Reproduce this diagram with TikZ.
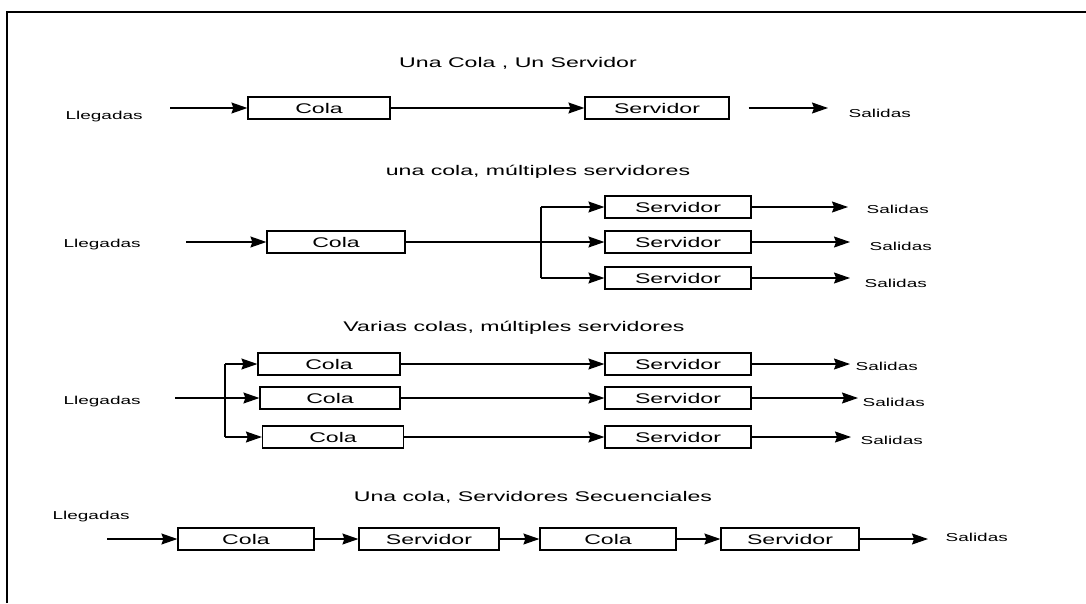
\documentclass[tikz,border=0pt]{standalone}
\usepackage{fontspec}
\setmainfont{Liberation Sans}[FakeStretch=1.65]
\usepackage{tikz}
\usetikzlibrary{arrows.meta, positioning}

\begin{document}
\begin{tikzpicture}[->, >={Stealth[length=16pt, width=11pt, inset=2pt]}, x=1pt, y=-1pt, line width=1.2pt,
	box/.style={
		rectangle,
		draw=black,
		minimum width=142pt,
		minimum height=22pt,
		inner sep=0pt,
		font=\fontsize{14}{16}\selectfont,
	},
	heading/.style={font=\fontsize{14}{16}\selectfont},
	endlbl/.style={anchor=west, inner sep=0pt, font=\fontsize{11.5}{13}\selectfont},]
	\useasboundingbox (0,0) rectangle (1086,603);
	% frame
	\draw[-] (7,603) -- (7,12) -- (1086,12);

	% una cola, un servidor
	\node[heading] (T1) at (518,63) {Una Cola , Un Servidor};
	\node[endlbl] (L1) at (65,117) {Llegadas};
	\coordinate (in1) at (170,108);
	\node[box] (C1) at (319,108) {Cola};
	\node[box, minimum width=144pt] (S1) at (657,108) {Servidor};
	\coordinate (out1) at (828,108);
	\node[endlbl] (O1) at (848,113) {Salidas};
	\path (in1) edge (C1)
	(C1) edge (S1)
	(S1) edge[shorten <=19pt] (out1);

	% una cola, varios servidores
	\node[heading] (T2) at (538,172) {una cola, múltiples servidores};
	\node[endlbl] (L2) at (63,245) {Llegadas};
	\coordinate (in2) at (186,242);
	\node[box, minimum width=138pt] (C2) at (336,242) {Cola};
	\coordinate (J2) at (541,242);
	\coordinate (J2a) at (541,207);
	\coordinate (J2c) at (541,278);
	\node[box, minimum width=146pt] (S2a) at (678,207) {Servidor};
	\node[box, minimum width=146pt] (S2b) at (678,242) {Servidor};
	\node[box, minimum width=146pt] (S2c) at (678,278) {Servidor};
	\coordinate (out2a) at (848,207);
	\coordinate (out2b) at (850,242);
	\coordinate (out2c) at (850,278);
	\node[endlbl] (O2a) at (866,209) {Salidas};
	\node[endlbl] (O2b) at (869,246) {Salidas};
	\node[endlbl] (O2c) at (864,283) {Salidas};
	\draw[-] (C2) -- (J2);
	\draw[-] (J2a) -- (J2c);
	\path (in2) edge (C2)
	(J2a) edge (S2a)
	(J2) edge (S2b)
	(J2c) edge (S2c)
	(S2a) edge (out2a)
	(S2b) edge (out2b)
	(S2c) edge (out2c);

	% varias colas, varios servidores
	\node[heading] (T3) at (514,328) {Varias colas, múltiples servidores};
	\node[endlbl] (L3) at (63,402) {Llegadas};
	\coordinate (in3) at (175,398);
	\coordinate (J3a) at (225,364);
	\coordinate (J3c) at (225,437);
	\node[box] (C3a) at (329,364) {Cola};
	\node[box, minimum width=140pt] (C3b) at (330,398) {Cola};
	\node[box, minimum width=141pt] (C3c) at (333,437) {Cola};
	\node[box, minimum width=146pt] (S3a) at (678,364) {Servidor};
	\node[box, minimum width=146pt] (S3b) at (678,398) {Servidor};
	\node[box, minimum width=146pt] (S3c) at (678,437) {Servidor};
	\coordinate (out3a) at (850,364);
	\coordinate (out3b) at (858,398);
	\coordinate (out3c) at (851,437);
	\node[endlbl] (O3a) at (855,366) {Salidas};
	\node[endlbl] (O3b) at (862,402) {Salidas};
	\node[endlbl] (O3c) at (860,440) {Salidas};
	\draw[-, line width=2pt] (J3a) -- (J3c);
	\path (in3) edge (C3b)
	(J3a) edge (C3a)
	(J3c) edge (C3c)
	(C3a) edge (S3a)
	(C3b) edge (S3b)
	(C3c) edge (S3c)
	(S3a) edge (out3a)
	(S3b) edge (out3b)
	(S3c) edge (out3c);

	% servidores en serie
	\node[heading] (T4) at (533,497) {Una cola, Servidores Secuenciales};
	\node[endlbl] (L4) at (52,517) {Llegadas};
	\coordinate (in4) at (107,539);
	\node[box, minimum width=136pt] (C4a) at (246,539) {Cola};
	\node[box, minimum width=140pt] (S4a) at (429,539) {Servidor};
	\node[box, minimum width=136pt] (C4b) at (608,539) {Cola};
	\node[box, minimum width=138pt] (S4b) at (790,539) {Servidor};
	\coordinate (out4) at (928,539);
	\node[endlbl] (O4) at (945,537) {Salidas};
	\path (in4) edge (C4a)
	(C4a) edge (S4a)
	(S4a) edge (C4b)
	(C4b) edge (S4b)
	(S4b) edge (out4);
\end{tikzpicture}
\end{document}
